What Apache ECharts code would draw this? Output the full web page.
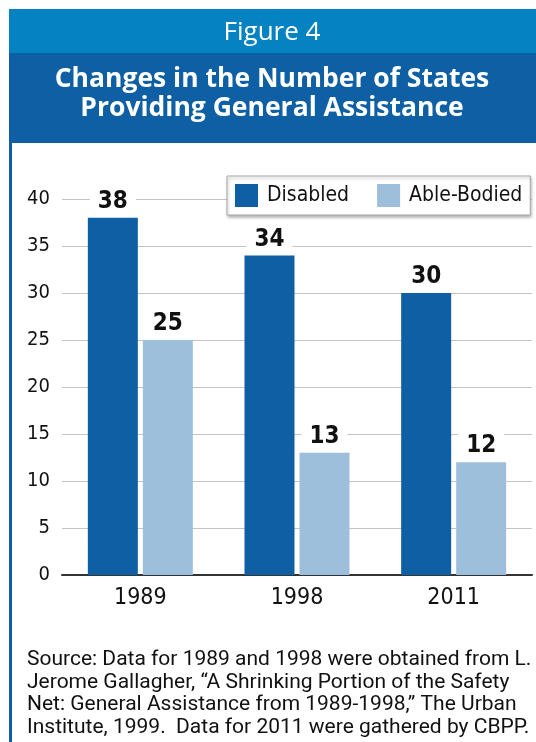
<!DOCTYPE html>
<html>
<head>
<meta charset="utf-8">
<script src="https://cdn.jsdelivr.net/npm/echarts@6/dist/echarts.min.js"></script>
<style>
html,body{margin:0;padding:0;background:#fff;}
#chart{width:536px;height:742px;}
</style>
</head>
<body>
<div id="chart"></div>
<script>
const categories = ['1989', '1998', '2011'];
const disabled = [38, 34, 30];
const ableBodied = [25, 13, 12];
const seriesNames = ['Disabled', 'Able-Bodied'];
const yMin = 0, yMax = 40, yInterval = 5;
const figureLabel = 'Figure 4';
const titleLines = ['Changes in the Number of States', 'Providing General Assistance'];
const sourceLines = [
  'Source: Data for 1989 and 1998 were obtained from L.',
  'Jerome Gallagher, \u201CA Shrinking Portion of the Safety',
  'Net: General Assistance from 1989-1998,\u201D The Urban',
  'Institute, 1999.  Data for 2011 were gathered by CBPP.'
];

const narrow = "'DejaVu Sans Condensed', 'Liberation Sans Narrow', sans-serif";
const DARK = '#0e5fa4';
const LIGHT = '#9ebfdb';

const chart = echarts.init(document.getElementById('chart'), null, {renderer: 'canvas'});

const labelStyle = {
  show: true,
  position: 'top',
  distance: 4,
  fontFamily: narrow,
  fontWeight: 'bold',
  fontSize: 24,
  color: '#111',
  backgroundColor: '#fff',
  padding: [1, 8, 0, 8]
};

const graphics = [
  {type: 'rect', shape: {x: 9, y: 9, width: 527, height: 44}, style: {fill: '#0582c1'}, z: 0},
  {type: 'rect', shape: {x: 9, y: 53, width: 527, height: 90}, style: {fill: '#0f5fa4'}, z: 0},
  {type: 'rect', shape: {x: 9, y: 143, width: 3, height: 599}, style: {fill: '#0f5fa4'}, z: 0},
  {type: 'text', x: 272, y: 33, style: {text: figureLabel, fill: '#fff', font: "400 26px 'Open Sans', sans-serif", textAlign: 'center', textVerticalAlign: 'middle'}, z: 1},
  {type: 'text', x: 272, y: 79, style: {text: titleLines[0], fill: '#fff', font: "700 26.5px 'Open Sans', sans-serif", textAlign: 'center', textVerticalAlign: 'middle'}, z: 1},
  {type: 'text', x: 272, y: 108, style: {text: titleLines[1], fill: '#fff', font: "700 26.5px 'Open Sans', sans-serif", textAlign: 'center', textVerticalAlign: 'middle'}, z: 1}
];
sourceLines.forEach(function (line, i) {
  graphics.push({type: 'text', x: 27, y: 660 + i * 22.6, style: {text: line, fill: '#111', font: "21px Roboto, 'Liberation Sans', sans-serif", textAlign: 'left', textVerticalAlign: 'middle'}, z: 1});
});

chart.setOption({
  animation: false,
  backgroundColor: '#fff',
  graphic: graphics,
  legend: {
    data: seriesNames,
    orient: 'horizontal',
    left: 227,
    top: 176,
    width: 300,
    padding: [8, 8, 8, 8],
    itemWidth: 23,
    itemHeight: 23,
    itemGap: 28,
    icon: 'rect',
    backgroundColor: '#fff',
    borderColor: '#a8a8a8',
    borderWidth: 1,
    shadowColor: 'rgba(0,0,0,0.3)',
    shadowBlur: 3,
    shadowOffsetX: 1,
    shadowOffsetY: 2,
    textStyle: {fontFamily: narrow, fontSize: 21, color: '#111', padding: [0, 0, 0, 4]},
    z: 10
  },
  grid: {left: 62, right: 4, top: 199, bottom: 167, containLabel: false},
  xAxis: {
    type: 'category',
    data: categories,
    axisLine: {show: true, lineStyle: {color: '#333', width: 2}},
    axisTick: {show: false},
    axisLabel: {fontFamily: narrow, fontSize: 23, color: '#111', margin: 12}
  },
  yAxis: {
    type: 'value',
    min: yMin,
    max: yMax,
    interval: yInterval,
    axisLine: {show: false},
    axisTick: {show: false},
    splitLine: {lineStyle: {color: '#c4c4c4', width: 1}},
    axisLabel: {fontFamily: narrow, fontSize: 20, color: '#111', margin: 12}
  },
  series: [
    {name: seriesNames[0], type: 'bar', data: disabled, barWidth: 50, barGap: '10%', itemStyle: {color: DARK}, label: labelStyle, z: 2},
    {name: seriesNames[1], type: 'bar', data: ableBodied, barWidth: 50, barGap: '10%', itemStyle: {color: LIGHT}, label: labelStyle, z: 2}
  ]
});
</script>
</body>
</html>
